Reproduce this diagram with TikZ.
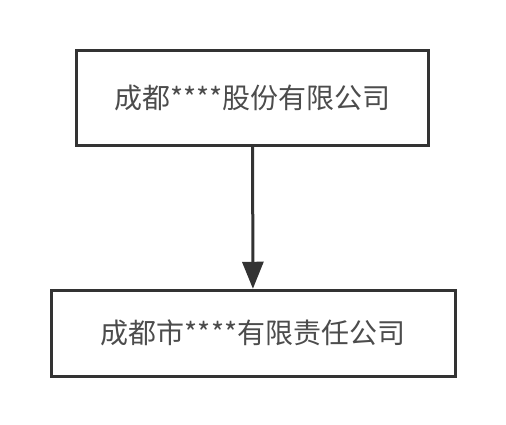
\documentclass[tikz,border=0pt]{standalone}
\usepackage{fontspec}
\usepackage{xcolor}
\usepackage{tikz}
\usetikzlibrary{arrows.meta, positioning}
\newfontfamily\cjk{Noto Sans CJK SC}
\tikzset{
    company/.style={rectangle, draw=black!80, line width=3pt, fill=white, text=black!70, text centered, font=\cjk\fontsize{28pt}{32pt}\selectfont},
    arrow/.style={-{Triangle[length=27pt, width=21pt]}, draw=black!80, line width=3pt},
}
\begin{document}
\begin{tikzpicture}[x=1pt, y=1pt]
    \useasboundingbox (0,0) rectangle (506,-424);
    % Parent company
    \node [company, minimum width=352pt, minimum height=94.5pt] (parent) at (252.5,-98) {成都****股份有限公司};
    % Subsidiary
    \node [company, minimum width=404pt, minimum height=86pt, below=142pt of parent, xshift=0.5pt] (sub) {成都市****有限责任公司};
    % Ownership arrow
    \draw [arrow] (parent) -- (sub);
\end{tikzpicture}
\end{document}
